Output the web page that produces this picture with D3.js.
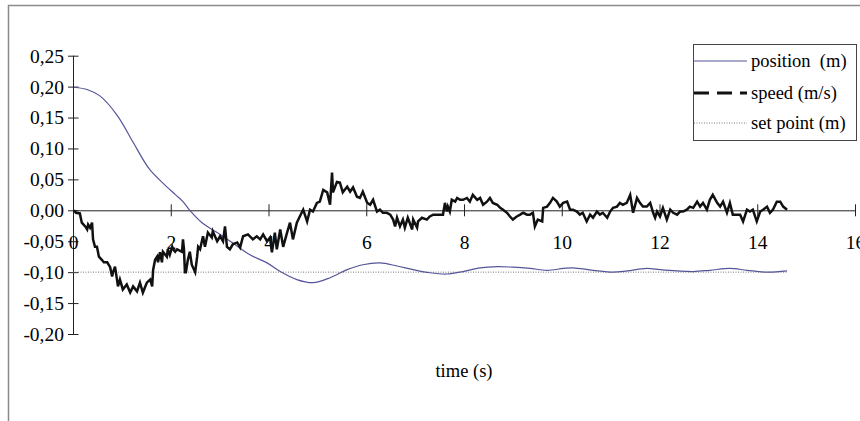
<!DOCTYPE html>
<html>
<head>
<meta charset="utf-8">
<script src="https://cdn.jsdelivr.net/npm/d3@7"></script>
<style>
    body { margin: 0; background: #fff; }
    svg text { font-family: "Liberation Serif", "Times New Roman", serif; fill: #000; }
    .legend text { white-space: pre; }
</style>
</head>
<body>
<div id="chart"></div>
<script>
// tick values
var xTicks = [0, 2, 4, 6, 8, 10, 12, 14, 16];
var yTicks = [0.25, 0.20, 0.15, 0.10, 0.05, 0.00, -0.05, -0.10, -0.15, -0.20];

// position (m)
var positionTime = [0.02, 0.30, 0.55, 0.90, 1.23, 1.45, 1.58, 1.84, 2.10, 2.25, 2.39, 2.64, 2.95, 3.27, 3.62, 3.97,
    4.24, 4.58, 4.91, 5.26, 5.61, 5.93, 6.28, 6.63, 6.96, 7.30, 7.65, 7.98, 8.33, 8.68, 9.00, 9.35, 9.70,
    10.03, 10.23, 10.64, 11.05, 11.34, 11.74, 12.01, 12.36, 12.69, 13.03, 13.44, 13.79, 14.20, 14.61];
var positionValue = [0.199, 0.195, 0.185, 0.154, 0.110, 0.080, 0.065, 0.044, 0.025, 0.014, 0.000, -0.020, -0.036, -0.053, -0.072, -0.085,
    -0.099, -0.112, -0.117, -0.109, -0.096, -0.088, -0.085, -0.090, -0.096, -0.101, -0.103, -0.099, -0.093, -0.091, -0.092, -0.094, -0.097,
    -0.094, -0.093, -0.097, -0.100, -0.098, -0.094, -0.096, -0.098, -0.099, -0.097, -0.094, -0.097, -0.100, -0.098];

// speed (m/s)
var speedTime = [0.02, 0.06, 0.14, 0.18, 0.25, 0.29, 0.31, 0.35, 0.39, 0.41, 0.45, 0.49, 0.53, 0.59, 0.63, 0.70,
    0.76, 0.80, 0.82, 0.86, 0.90, 0.92, 0.96, 1.02, 1.10, 1.17, 1.23, 1.31, 1.37, 1.43, 1.51, 1.58, 1.62, 1.64,
    1.68, 1.72, 1.74, 1.78, 1.82, 1.84, 1.92, 1.94, 1.98, 2.03, 2.05, 2.09, 2.13, 2.23, 2.25, 2.27, 2.29, 2.31,
    2.35, 2.39, 2.43, 2.50, 2.54, 2.56, 2.60, 2.66, 2.70, 2.76, 2.84, 2.86, 2.95, 3.01, 3.07, 3.11, 3.15, 3.21,
    3.27, 3.36, 3.42, 3.48, 3.58, 3.68, 3.76, 3.83, 3.89, 3.97, 4.03, 4.07, 4.13, 4.17, 4.24, 4.30, 4.38, 4.44,
    4.50, 4.58, 4.64, 4.71, 4.79, 4.85, 4.91, 4.99, 5.05, 5.12, 5.20, 5.26, 5.30, 5.32, 5.40, 5.46, 5.52, 5.61,
    5.67, 5.73, 5.81, 5.87, 5.93, 6.02, 6.08, 6.14, 6.22, 6.28, 6.34, 6.42, 6.49, 6.55, 6.59, 6.63, 6.69, 6.75,
    6.79, 6.85, 6.94, 6.96, 7.04, 7.06, 7.14, 7.24, 7.30, 7.37, 7.45, 7.57, 7.61, 7.65, 7.67, 7.71, 7.75, 7.82,
    7.86, 7.92, 7.98, 8.06, 8.12, 8.18, 8.27, 8.33, 8.39, 8.47, 8.53, 8.59, 8.68, 8.74, 8.80, 8.88, 8.94, 9.00,
    9.08, 9.15, 9.21, 9.29, 9.35, 9.41, 9.45, 9.51, 9.60, 9.62, 9.70, 9.76, 9.82, 9.90, 9.96, 10.03, 10.11, 10.17,
    10.23, 10.31, 10.37, 10.43, 10.51, 10.58, 10.64, 10.72, 10.78, 10.84, 10.93, 10.99, 11.05, 11.13, 11.19, 11.25,
    11.33, 11.40, 11.46, 11.54, 11.60, 11.66, 11.74, 11.81, 11.87, 11.91, 11.95, 12.01, 12.07, 12.15, 12.22, 12.28,
    12.36, 12.42, 12.48, 12.56, 12.62, 12.69, 12.77, 12.83, 12.89, 12.97, 13.03, 13.09, 13.18, 13.24, 13.30, 13.38,
    13.44, 13.50, 13.59, 13.65, 13.71, 13.79, 13.85, 13.91, 13.99, 14.06, 14.12, 14.20, 14.26, 14.32, 14.40, 14.47,
    14.53, 14.61];
var speedValue = [0.000, -0.004, -0.005, -0.020, -0.026, -0.031, -0.023, -0.028, -0.020, -0.047, -0.059, -0.059, -0.075, -0.080, -0.084, -0.084,
    -0.092, -0.107, -0.100, -0.091, -0.112, -0.123, -0.112, -0.128, -0.120, -0.133, -0.123, -0.131, -0.117, -0.133, -0.117, -0.112, -0.123, -0.096,
    -0.080, -0.075, -0.084, -0.068, -0.084, -0.067, -0.075, -0.063, -0.072, -0.059, -0.063, -0.067, -0.063, -0.067, -0.047, -0.062, -0.100, -0.100,
    -0.080, -0.067, -0.088, -0.100, -0.075, -0.059, -0.063, -0.042, -0.059, -0.036, -0.044, -0.034, -0.050, -0.042, -0.050, -0.026, -0.059, -0.063,
    -0.055, -0.052, -0.060, -0.042, -0.039, -0.047, -0.042, -0.047, -0.039, -0.050, -0.044, -0.068, -0.036, -0.063, -0.031, -0.059, -0.036, -0.020,
    -0.047, -0.020, -0.010, 0.001, -0.018, 0.001, -0.002, 0.012, 0.014, 0.033, 0.029, 0.009, 0.061, 0.029, 0.046, 0.045, 0.029, 0.038,
    0.030, 0.037, 0.022, 0.020, 0.030, 0.012, 0.009, 0.017, -0.002, 0.001, -0.004, -0.004, -0.007, -0.015, -0.026, -0.012, -0.026, -0.015,
    -0.028, -0.012, -0.031, -0.015, -0.028, -0.018, -0.012, -0.015, -0.010, -0.007, -0.007, -0.007, 0.012, -0.002, 0.006, -0.002, 0.017, 0.014,
    0.020, 0.017, 0.017, 0.020, 0.014, 0.025, 0.017, 0.020, 0.009, 0.014, 0.020, 0.012, 0.009, 0.004, 0.001, -0.004, -0.010, -0.015,
    -0.010, -0.007, -0.004, -0.007, -0.007, -0.004, -0.026, -0.015, -0.018, 0.004, 0.006, 0.012, 0.020, 0.014, 0.006, 0.012, 0.014, 0.001,
    0.001, -0.002, -0.007, -0.004, -0.018, -0.007, -0.012, -0.002, -0.007, -0.004, -0.012, -0.002, 0.004, 0.006, 0.012, 0.009,
    0.012, 0.025, -0.004, 0.020, 0.012, 0.006, 0.006, 0.012, -0.004, -0.012, -0.002, -0.010, 0.004, -0.015, 0.001, -0.004,
    -0.007, -0.002, -0.002, 0.001, 0.006, 0.004, 0.014, 0.006, 0.012, 0.001, 0.017, 0.025, 0.012, 0.006, 0.014, -0.004,
    0.012, -0.007, -0.007, -0.007, -0.018, 0.001, -0.002, 0.001, -0.018, -0.002, 0.001, 0.006, -0.004, 0.001, 0.014, 0.014,
    0.006, 0.001];

// set point (m)
var setPointTime = [0, 14.61];
var setPointValue = [-0.10, -0.10];

var legendLabels = ["position  (m)", "speed (m/s)", "set point (m)"];

var chart = {};
chart.width = 860;
chart.height = 421;

var svg = d3.select("#chart").append("svg")
    .attr("width", chart.width)
    .attr("height", chart.height);

// outer frame
svg.append("path")
    .attr("d", "M8.5," + chart.height + "V5.5H" + chart.width)
    .attr("fill", "none")
    .attr("stroke", "#8a8a8a")
    .attr("stroke-width", 1.5);

var x = d3.scaleLinear().domain([0, 16]).range([73, 855]);
var y = d3.scaleLinear().domain([-0.20, 0.25]).range([334, 55.7]);

var locale = d3.formatLocale({decimal: ",", thousands: ".", grouping: [3], currency: ["", ""], minus: "-"});
var yFormat = locale.format(".2f");

// y axis
var yAxis = d3.axisLeft(y)
    .tickValues(yTicks)
    .tickSize(5)
    .tickPadding(6)
    .tickFormat(yFormat);

var gy = svg.append("g")
    .attr("transform", "translate(" + x(0) + ",0)")
    .call(yAxis);
gy.select(".domain").attr("d", "M0.5," + y(-0.20) + "V" + y(0.25)).attr("stroke", "#222");
gy.selectAll(".tick line").attr("x1", 5.5).attr("x2", -5).attr("stroke", "#222");
gy.selectAll(".tick text").style("font-size", "19.5px").attr("x", -9).attr("dy", "0.33em");

// x axis at zero
var xAxis = d3.axisBottom(x)
    .tickValues(xTicks)
    .tickSize(6)
    .tickFormat(d3.format("d"));

var gx = svg.append("g")
    .attr("transform", "translate(0," + y(0) + ")")
    .call(xAxis);
gx.select(".domain").attr("d", "M" + x(0) + ",0.5H" + x(16)).attr("stroke", "#222");
gx.selectAll(".tick line").attr("y1", -6).attr("y2", 6).attr("stroke", "#222");
gx.selectAll(".tick text").style("font-size", "19.5px").attr("y", 32).attr("dy", "0.33em");

svg.append("text")
    .attr("x", x(8))
    .attr("y", 377)
    .attr("text-anchor", "middle")
    .style("font-size", "18.5px")
    .text("time (s)");

// series
var setLine = d3.line()
    .x(function(d) { return x(d[0]); })
    .y(function(d) { return y(d[1]); });

var posLine = d3.line()
    .x(function(d) { return x(d[0]); })
    .y(function(d) { return y(d[1]); })
    .curve(d3.curveCatmullRom);

svg.append("path")
    .datum(d3.zip(setPointTime, setPointValue))
    .attr("d", setLine)
    .attr("fill", "none")
    .attr("stroke", "#777")
    .attr("stroke-width", 1)
    .attr("stroke-dasharray", "1,1.5");

svg.append("path")
    .datum(d3.zip(positionTime, positionValue))
    .attr("d", posLine)
    .attr("fill", "none")
    .attr("stroke", "#55559a")
    .attr("stroke-width", 1.2);

svg.append("path")
    .datum(d3.zip(speedTime, speedValue))
    .attr("d", setLine)
    .attr("fill", "none")
    .attr("stroke", "#111")
    .attr("stroke-width", 2.5)
    .attr("stroke-linejoin", "miter");

// legend
var legend = svg.append("g").attr("class", "legend");
legend.append("rect")
    .attr("x", 693.5).attr("y", 44.5)
    .attr("width", 163).attr("height", 96)
    .attr("fill", "#fff")
    .attr("stroke", "#444")
    .attr("stroke-width", 1);

var legendY = [61, 93, 123];
var legendStyle = [
    {stroke: "#55559a", width: 1.2, dash: null},
    {stroke: "#111", width: 3, dash: "15,8"},
    {stroke: "#777", width: 1, dash: "1,1.5"}
];

legendLabels.forEach(function(label, i) {
    legend.append("line")
        .attr("x1", 694).attr("x2", 747)
        .attr("y1", legendY[i]).attr("y2", legendY[i])
        .attr("stroke", legendStyle[i].stroke)
        .attr("stroke-width", legendStyle[i].width)
        .attr("stroke-dasharray", legendStyle[i].dash);
    legend.append("text")
        .attr("x", 751)
        .attr("y", legendY[i])
        .attr("dy", "0.33em")
        .style("font-size", "18.5px")
        .text(label);
});
</script>
</body>
</html>
